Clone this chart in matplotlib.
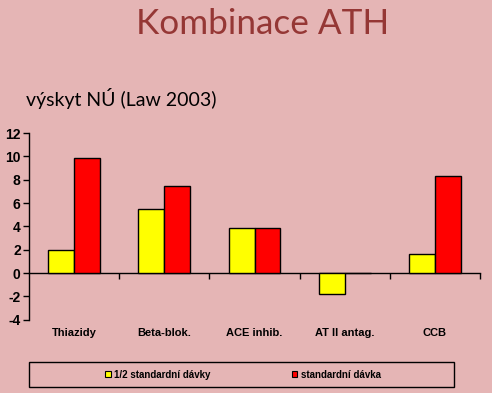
import matplotlib
matplotlib.use("Agg")
import matplotlib.pyplot as plt
from matplotlib.patches import Rectangle, Patch
from matplotlib.transforms import blended_transform_factory
import numpy as np

categories = ["Thiazidy", "Beta-blok.", "ACE inhib.", "AT II antag.", "CCB"]
half_dose = [2.0, 5.5, 3.9, -1.8, 1.6]
full_dose = [9.9, 7.5, 3.9, 0.0, 8.3]
series_names = ["1/2 standardní dávky", "standardní dávka"]
yticks = [-4, -2, 0, 2, 4, 6, 8, 10, 12]

W, H = 492, 393
bg = "#E5B5B5"
fig = plt.figure(figsize=(W / 100, H / 100), dpi=100, facecolor=bg)

ax = fig.add_axes([29 / W, 1 - 319.7 / H, (480 - 29) / W, (319.7 - 133) / H])
ax.set_facecolor("none")

x = np.arange(len(categories))
bw = 0.288
ax.bar(x - bw / 2, half_dose, bw, color="#FFFF00", edgecolor="black", linewidth=1.0, zorder=3)
ax.bar(x + bw / 2, full_dose, bw, color="#FF0000", edgecolor="black", linewidth=1.0, zorder=3)

ax.set_xlim(-0.5, len(categories) - 0.5)
ax.set_ylim(-4, 12)
ax.set_yticks(yticks)
ax.set_yticklabels([str(v) for v in yticks], fontsize=10, fontweight="bold",
                   family="Liberation Sans")
ax.tick_params(axis="y", direction="out", length=4, width=1, pad=2)

for s in ["top", "right"]:
    ax.spines[s].set_visible(False)
ax.spines["bottom"].set_position(("data", 0))
ax.spines["left"].set_linewidth(1)
ax.spines["bottom"].set_linewidth(1)

ax.set_xticks(np.arange(len(categories)) + 0.5)
ax.set_xticklabels([])
ax.tick_params(axis="x", direction="out", length=4, width=1)

trans = blended_transform_factory(ax.transData, ax.transAxes)
for i, c in enumerate(categories):
    ax.text(i, -0.072, c, transform=trans, ha="center", va="center",
            fontsize=8, fontweight="bold", family="Liberation Sans")

fig.text(262.5 / W, 1 - 34 / H, "Kombinace ATH", ha="center", va="baseline",
         fontsize=25.3, color="#953735", family="Lato")
fig.text(26 / W, 1 - 106 / H, "výskyt NÚ (Law 2003)", ha="left", va="baseline",
         fontsize=14, color="black", family="Lato")

# legend frame
fig.patches.append(Rectangle((29 / W, 1 - 387 / H), 425 / W, 25 / H,
                             transform=fig.transFigure, fill=False,
                             edgecolor="black", linewidth=1.0))
handles = [Patch(facecolor="#FFFF00", edgecolor="black", linewidth=0.8),
           Patch(facecolor="#FF0000", edgecolor="black", linewidth=0.8)]
fig.legend(handles, series_names, loc="center", bbox_to_anchor=(243 / W, 1 - 374.5 / H),
           ncol=2, frameon=False, handlelength=0.6, handleheight=0.6, handletextpad=0.4,
           columnspacing=8.3, prop={"family": "Liberation Sans", "weight": "bold", "size": 7})

fig.savefig("out.png", dpi=100, facecolor=bg)
